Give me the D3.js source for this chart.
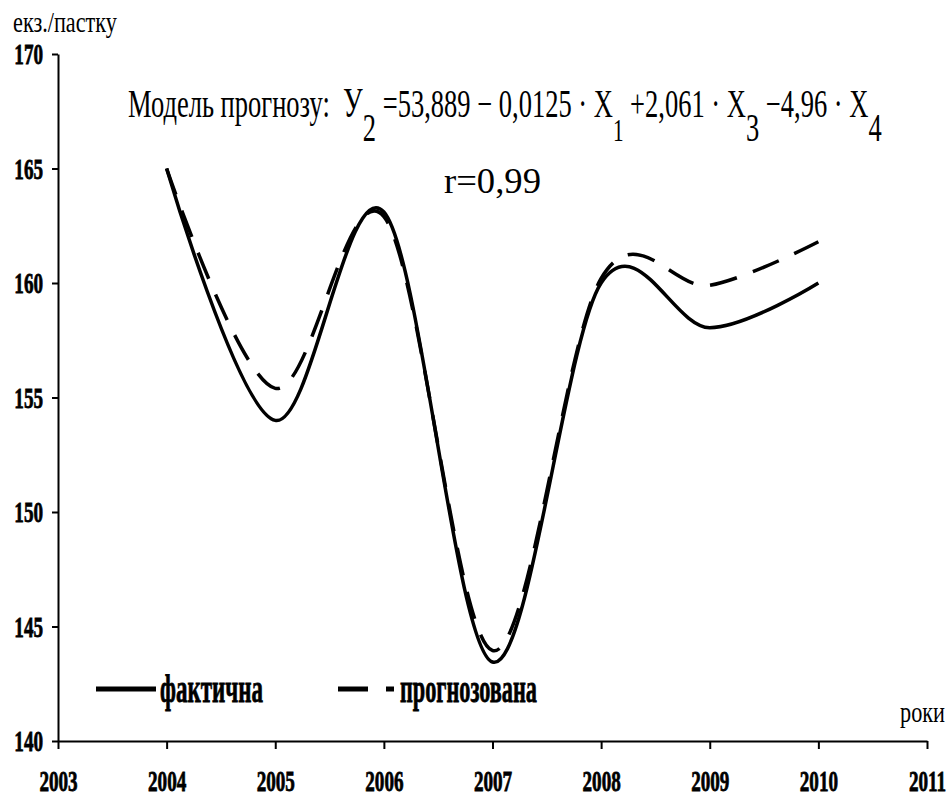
<!DOCTYPE html>
<html><head><meta charset="utf-8">
<script src="https://cdn.jsdelivr.net/npm/d3@7"></script>
<style>
html,body{margin:0;padding:0;background:#fff;}
svg{display:block;}
text{font-family:"Liberation Serif","Times New Roman",serif;fill:#000;white-space:pre;}
</style></head>
<body>
<svg id="chart" width="947" height="796"></svg>
<script>
// ---- data ----
const years = [2004, 2005, 2006, 2007, 2008, 2009, 2010];
const actualValues = [165.0, 154.0, 163.1, 143.45, 160.0, 158.05, 160.0];
const forecastValues = [165.0, 155.4, 162.9, 143.95, 160.2, 159.9, 161.8];
const yTicks = [140, 145, 150, 155, 160, 165, 170];
const xTicks = [2003, 2004, 2005, 2006, 2007, 2008, 2009, 2010, 2011];
const seriesNames = ["фактична", "прогнозована"];
const yAxisTitle = "екз./пастку";
const xAxisTitle = "роки";
const corrText = "r=0,99";

const svg = d3.select("#chart");
const x = d3.scaleLinear().domain([2003, 2011]).range([58, 927]);
const y = d3.scaleLinear().domain([140, 170]).range([741, 54]);

// fit a text element horizontally between x0 and x1, baseline at yb
function fit(t, x0, x1, yb) {
  t.attr("x", 0).attr("y", 0).attr("text-anchor", "start");
  const w = t.node().getBBox().width;
  const s = (x1 - x0) / w;
  t.attr("transform", `translate(${x0},${yb}) scale(${s},1)`);
}

// axes
const sx = 0.66;
const gy = svg.append("g").attr("transform", `translate(${x(2003)},0)`)
  .call(d3.axisLeft(y).tickValues(yTicks).tickSize(6).tickSizeOuter(0).tickFormat(d3.format("d")));
gy.select(".domain").attr("stroke", "#000").attr("stroke-width", 2);
gy.selectAll(".tick line").attr("stroke", "#000").attr("stroke-width", 2);
gy.selectAll(".tick text")
  .attr("font-family", "Liberation Serif, serif").attr("font-weight", "bold").attr("font-size", 29)
  .attr("stroke", "#000").attr("stroke-width", 0.8)
  .attr("text-anchor", "end").attr("dy", "0.34em")
  .attr("x", -15 / sx).attr("transform", `scale(${sx},1)`);

const gx = svg.append("g").attr("transform", `translate(0,${y(140)})`)
  .call(d3.axisBottom(x).tickValues(xTicks).tickSize(8).tickSizeOuter(0).tickFormat(d3.format("d")));
gx.select(".domain").attr("stroke", "#000").attr("stroke-width", 2);
gx.selectAll(".tick line").attr("stroke", "#000").attr("stroke-width", 2);
gx.selectAll(".tick text")
  .attr("font-family", "Liberation Serif, serif").attr("font-weight", "bold").attr("font-size", 29)
  .attr("stroke", "#000").attr("stroke-width", 0.8)
  .attr("y", 50).attr("dy", 0).attr("transform", `scale(${sx},1)`);

// lines
const line = d3.line().x((d, i) => x(years[i])).y(d => y(d)).curve(d3.curveCatmullRom.alpha(0));
svg.append("path").datum(actualValues).attr("d", line)
  .attr("fill", "none").attr("stroke", "#000").attr("stroke-width", 3.5);
svg.append("path").datum(forecastValues).attr("d", line)
  .attr("fill", "none").attr("stroke", "#000").attr("stroke-width", 3.5)
  .attr("stroke-dasharray", "28,17");

// legend
svg.append("line").attr("x1", 96).attr("x2", 156).attr("y1", 689).attr("y2", 689)
  .attr("stroke", "#000").attr("stroke-width", 5);
fit(svg.append("text").attr("font-weight", "bold").attr("font-size", 40)
  .attr("stroke", "#000").attr("stroke-width", 0.8).text(seriesNames[0]), 160, 263, 702);
svg.append("line").attr("x1", 338).attr("x2", 368).attr("y1", 689).attr("y2", 689)
  .attr("stroke", "#000").attr("stroke-width", 5);
svg.append("line").attr("x1", 386).attr("x2", 394).attr("y1", 689).attr("y2", 689)
  .attr("stroke", "#000").attr("stroke-width", 5);
fit(svg.append("text").attr("font-weight", "bold").attr("font-size", 40)
  .attr("stroke", "#000").attr("stroke-width", 0.8).text(seriesNames[1]), 400, 537, 702);

// axis titles
fit(svg.append("text").attr("font-size", 30).text(yAxisTitle), 13, 117, 32);
fit(svg.append("text").attr("font-size", 30).text(xAxisTitle), 900, 945, 722);

// title with model
const title = svg.append("text").attr("font-size", 40);
title.append("tspan").text("Модель прогнозу:  ");
title.append("tspan").attr("font-size", 42).text("У");
title.append("tspan").attr("dy", 24).attr("font-size", 40).text("2");
title.append("tspan").attr("dy", -24).text(" =53,889 − 0,0125 · X");
title.append("tspan").attr("dy", 24).attr("font-size", 32).text("1");
title.append("tspan").attr("dy", -24).text(" +2,061 · X");
title.append("tspan").attr("dy", 24).attr("font-size", 40).text("3");
title.append("tspan").attr("dy", -24).text(" −4,96 · X");
title.append("tspan").attr("dy", 24).attr("font-size", 40).text("4");
fit(title, 128, 882, 117);

fit(svg.append("text").attr("font-size", 36).text(corrText), 444, 541, 193);
</script>
</body></html>
